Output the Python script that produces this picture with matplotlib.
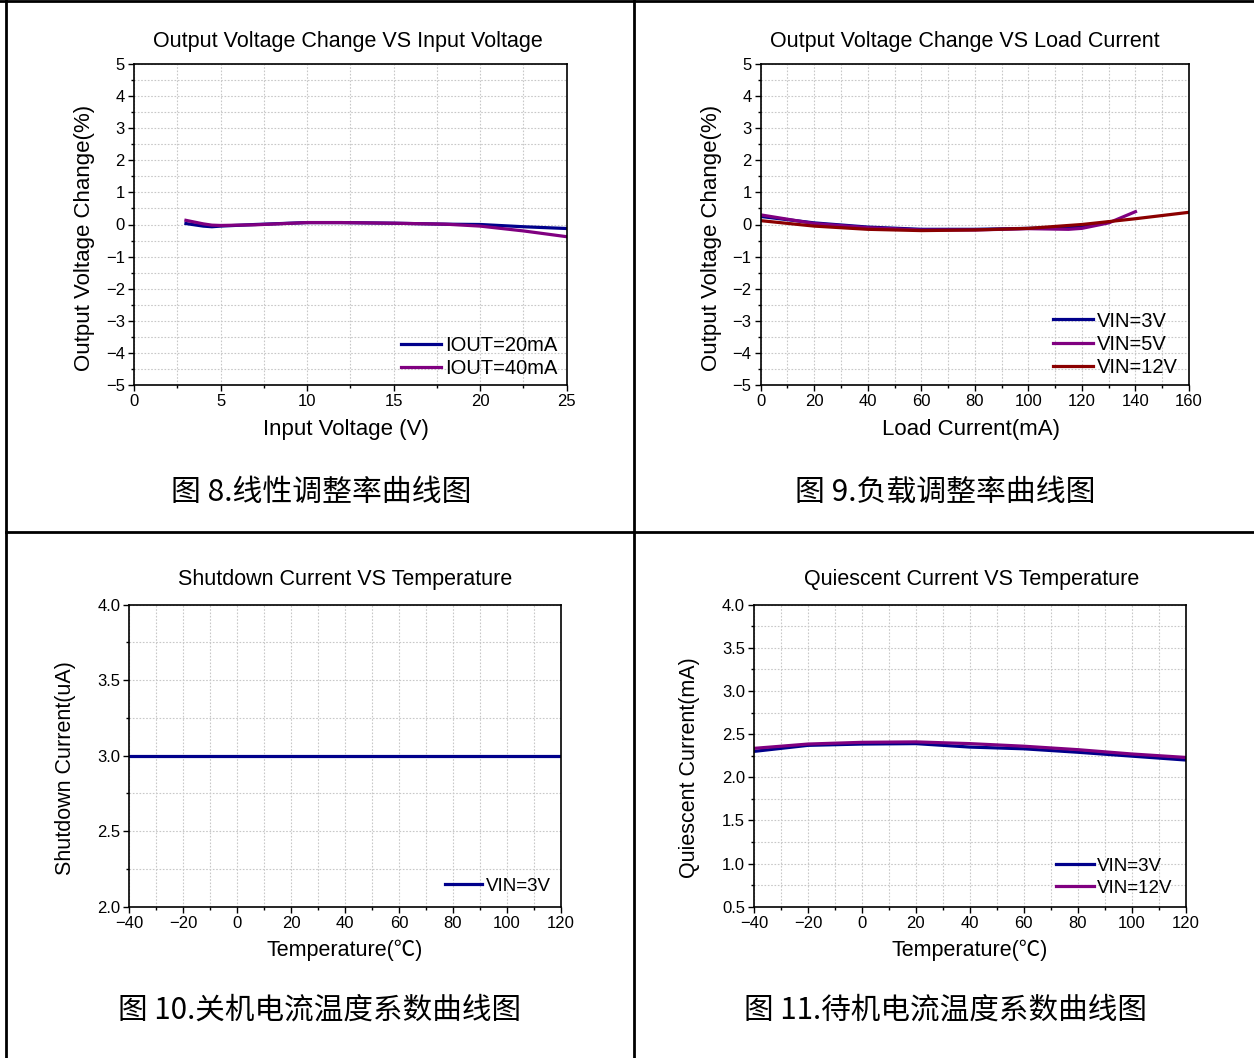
import matplotlib
matplotlib.use("Agg")
import matplotlib.pyplot as plt
from matplotlib.lines import Line2D
from matplotlib.ticker import MultipleLocator, FormatStrFormatter

plt.rcParams['font.family'] = ['Liberation Sans', 'Noto Sans CJK SC', 'DejaVu Sans']
plt.rcParams['axes.unicode_minus'] = True

# ---- data ----
vin_x = [3, 4, 4.5, 5, 7, 10, 12, 15, 18, 20, 22.5, 25]
iout20 = [0.03, -0.05, -0.07, -0.05, 0.0, 0.06, 0.06, 0.04, 0.01, 0.0, -0.07, -0.125]
iout40 = [0.13, 0.02, -0.02, -0.03, -0.01, 0.06, 0.06, 0.04, 0.01, -0.05, -0.2, -0.38]

load_x3 = [0, 20, 40, 60, 80, 100, 110, 120, 130]
vin3 = [0.25, 0.05, -0.08, -0.15, -0.15, -0.12, -0.1, -0.05, 0.07]
load_x5 = [0, 20, 40, 60, 80, 100, 115, 120, 130, 140]
vin5 = [0.3, 0.03, -0.1, -0.17, -0.17, -0.13, -0.15, -0.12, 0.05, 0.4]
load_x12 = [0, 20, 40, 60, 80, 100, 120, 140, 160]
vin12 = [0.12, -0.05, -0.15, -0.19, -0.17, -0.12, 0.0, 0.18, 0.38]

temp = [-40, -20, 0, 20, 40, 60, 80, 100, 120]
shutdown = [3.0, 3.0, 3.0, 3.0, 3.0, 3.0, 3.0, 3.0, 3.0]
iq_3v = [2.30, 2.37, 2.385, 2.39, 2.35, 2.33, 2.29, 2.245, 2.20]
iq_12v = [2.335, 2.385, 2.405, 2.41, 2.39, 2.36, 2.32, 2.27, 2.23]

NAVY = '#00008B'
PURPLE = '#800080'
DRED = '#8B0000'

W, H = 1254, 1058
fig = plt.figure(figsize=(W / 100, H / 100), dpi=100)


def rect(l, r, t, b):
    return [l / W, 1 - b / H, (r - l) / W, (b - t) / H]


def fx(x):
    return x / W


def fy(y):
    return 1 - y / H


def style(ax, xmaj, xmin, ymaj, ymin, yfmt=None):
    ax.xaxis.set_major_locator(MultipleLocator(xmaj))
    ax.xaxis.set_minor_locator(MultipleLocator(xmin))
    ax.yaxis.set_major_locator(MultipleLocator(ymaj))
    ax.yaxis.set_minor_locator(MultipleLocator(ymin))
    if yfmt:
        ax.yaxis.set_major_formatter(FormatStrFormatter(yfmt))
    ax.grid(True, which='both', color='#c8c8c8', linestyle=(0, (1.5, 1.5)), linewidth=0.8)
    ax.set_axisbelow(True)
    ax.tick_params(which='both', direction='out', top=False, right=False, labelsize=12,
                   colors='black', pad=2)
    ax.tick_params(which='major', length=4.5, width=1.0)
    ax.tick_params(which='minor', length=2.5, width=1.0)
    for s in ax.spines.values():
        s.set_linewidth(1.2)


def labels(ax, title, tcx, tcy, xl, xcx, xcy, yl, ycx, ycy, fs):
    fig.text(fx(tcx), fy(tcy), title, ha='center', va='center', fontsize=15.5)
    ax.set_xlabel(xl, fontsize=fs, ha='center', va='center')
    ax.xaxis.set_label_coords(fx(xcx), fy(xcy), transform=fig.transFigure)
    ax.set_ylabel(yl, fontsize=fs, ha='center', va='center')
    ax.yaxis.set_label_coords(fx(ycx), fy(ycy), transform=fig.transFigure)


def legend(ax, dx, dy, fs, ls, pos):
    l, r, t, b = pos
    ax.legend(loc='lower right', frameon=False, fontsize=fs, handlelength=2.0,
              handletextpad=0.2, labelspacing=ls, borderaxespad=0, borderpad=0.1,
              bbox_to_anchor=(1 - dx / (r - l), dy / (b - t)))


LW = 2.3

# Panel 1
p1 = (134, 566.7, 64, 385)
ax1 = fig.add_axes(rect(*p1))
ax1.plot(vin_x, iout20, color=NAVY, lw=LW, label='IOUT=20mA')
ax1.plot(vin_x, iout40, color=PURPLE, lw=LW, label='IOUT=40mA')
ax1.set_xlim(0, 25)
ax1.set_ylim(-5, 5)
style(ax1, 5, 2.5, 1, 0.5)
labels(ax1, 'Output Voltage Change VS Input Voltage', 348, 42,
       'Input Voltage (V)', 345.5, 429, 'Output Voltage Change(%)', 85, 237.5, 16)
legend(ax1, 7, 5, 14.5, 0.21, p1)

# Panel 2
p2 = (760.7, 1189, 64, 385)
ax2 = fig.add_axes(rect(*p2))
ax2.plot(load_x3, vin3, color=NAVY, lw=LW, label='VIN=3V')
ax2.plot(load_x5, vin5, color=PURPLE, lw=LW, label='VIN=5V')
ax2.plot(load_x12, vin12, color=DRED, lw=LW, label='VIN=12V')
ax2.set_xlim(0, 160)
ax2.set_ylim(-5, 5)
style(ax2, 20, 10, 1, 0.5)
labels(ax2, 'Output Voltage Change VS Load Current', 964.5, 41,
       'Load Current(mA)', 970.5, 429, 'Output Voltage Change(%)', 712, 237.5, 16)
legend(ax2, 9, 6, 14.5, 0.21, p2)

# Panel 3
p3 = (129.3, 560.7, 604.7, 906.7)
ax3 = fig.add_axes(rect(*p3))
ax3.plot(temp, shutdown, color=NAVY, lw=LW, label='VIN=3V')
ax3.set_xlim(-40, 120)
ax3.set_ylim(2.0, 4.0)
style(ax3, 20, 10, 0.5, 0.25, '%.1f')
labels(ax3, 'Shutdown Current VS Temperature', 345, 580,
       'Temperature(℃)', 344.5, 950, 'Shutdown Current(uA)', 66, 768, 15.5)
legend(ax3, 8, 10, 13.5, 0.25, p3)

# Panel 4
p4 = (754, 1185.7, 604.7, 906.7)
ax4 = fig.add_axes(rect(*p4))
ax4.plot(temp, iq_3v, color=NAVY, lw=LW, label='VIN=3V')
ax4.plot(temp, iq_12v, color=PURPLE, lw=LW, label='VIN=12V')
ax4.set_xlim(-40, 120)
ax4.set_ylim(0.5, 4.0)
style(ax4, 20, 10, 0.5, 0.25, '%.1f')
labels(ax4, 'Quiescent Current VS Temperature', 971.5, 580,
       'Temperature(℃)', 969.5, 950, 'Quiescent Current(mA)', 690, 768, 15.5)
legend(ax4, 11, 8, 13.5, 0.25, p4)

# Captions
CAP_FONT = ['Noto Sans CJK SC', 'DejaVu Sans']
fig.text(fx(321), fy(492), '图 8.线性调整率曲线图', ha='center', va='center', fontsize=21.5, family=CAP_FONT)
fig.text(fx(945), fy(492), '图 9.负载调整率曲线图', ha='center', va='center', fontsize=21.5, family=CAP_FONT)
fig.text(fx(320), fy(1010), '图 10.关机电流温度系数曲线图', ha='center', va='center', fontsize=21.3, family=CAP_FONT)
fig.text(fx(945), fy(1010), '图 11.待机电流温度系数曲线图', ha='center', va='center', fontsize=21.3, family=CAP_FONT)


# Frame lines
def fline(x0, y0, x1, y1):
    fig.add_artist(Line2D([fx(x0), fx(x1)], [fy(y0), fy(y1)], transform=fig.transFigure,
                          color='black', linewidth=2.0))


fline(0, 1, W, 1)
fline(6, 0, 6, H)
fline(634, 0, 634, H)
fline(6, 531.5, W, 531.5)

fig.savefig('out.png', dpi=100)
